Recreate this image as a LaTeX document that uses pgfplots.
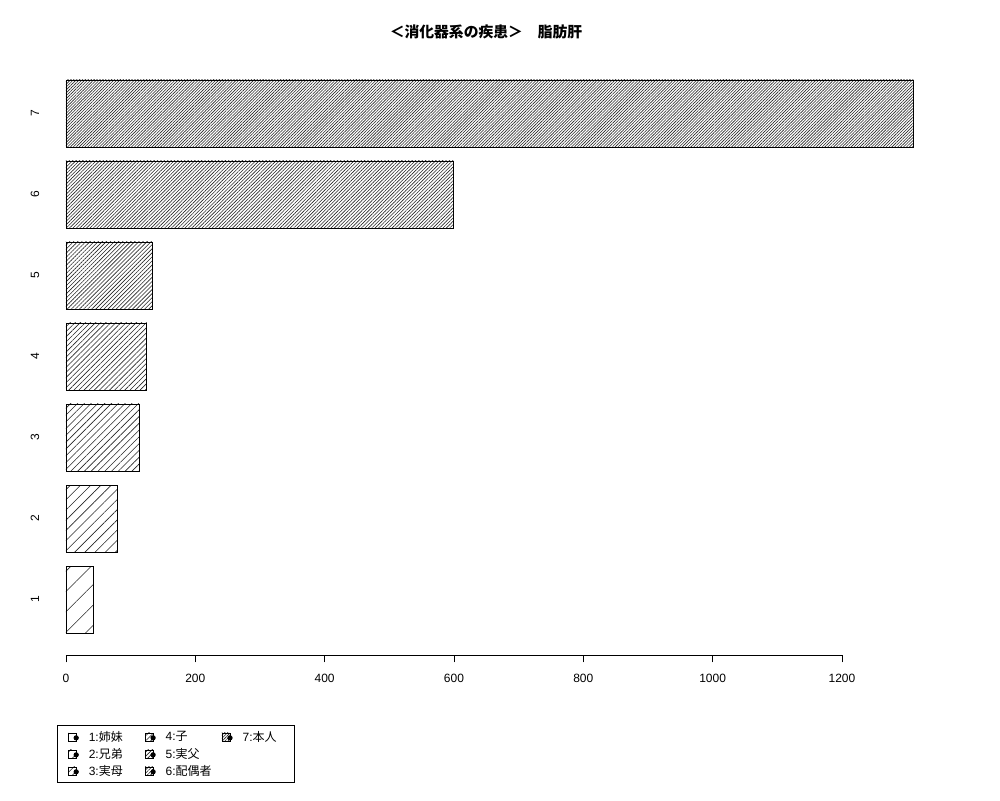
\documentclass[border=0pt]{standalone}
\usepackage{fontspec}
\setmainfont{Liberation Sans}
\newfontfamily\jp{Noto Sans CJK JP}
\usepackage{pgfplots}
\pgfplotsset{compat=1.18}
\usetikzlibrary{patterns.meta}

% hatching density grows with the category (R density 5,10,...,35)
\tikzset{
  h1/.style={pattern={Lines[angle=45,distance=14.4pt,line width=0.6pt]}},
  h2/.style={pattern={Lines[angle=45,distance=7.2pt,line width=0.6pt]}},
  h3/.style={pattern={Lines[angle=45,distance=4.8pt,line width=0.6pt]}},
  h4/.style={pattern={Lines[angle=45,distance=3.6pt,line width=0.6pt]}},
  h5/.style={pattern={Lines[angle=45,distance=2.88pt,line width=0.6pt]}},
  h6/.style={pattern={Lines[angle=45,distance=2.4pt,line width=0.6pt]}},
  h7/.style={pattern={Lines[angle=45,distance=2.06pt,line width=0.6pt]}},
}
\newcommand{\hicon}[1]{\draw[#1,pattern color=black!85,line width=0.6pt] (0pt,-4pt) rectangle (8pt,4pt);
  \fill[black] (8pt,-1pt) circle (2.2pt);}

\pgfplotsset{
  hbar/.style={xbar, bar shift=0pt, bar width=67pt, draw=black, line width=0.9pt,
    pattern color=black!85, forget plot},
}

\begin{document}
\begin{tikzpicture}[x=1pt,y=1pt]
\path[use as bounding box] (0,0) rectangle (1000,800);
\begin{axis}[
    at={(42.7pt,144.6pt)}, anchor=south west,
    scale only axis, width=904.3pt, height=597.8pt,
    xmin=-36, xmax=1362.4, ymin=0.31, ymax=7.69,
    axis line style={draw=none},
    xtick={0,200,...,1200}, xtick pos=lower,
    ytick={1,...,7}, ytick pos=left,
    ytick style={draw=none},
    tick align=outside, major tick length=7pt,
    xtick style={black, line width=0.8pt},
    tick label style={font=\fontsize{12}{14}\selectfont},
    /pgf/number format/assume math mode=true,
    /pgf/number format/1000 sep={},
    xticklabel shift=8pt,
    yticklabel style={rotate=90, anchor=south},
    yticklabel shift=-7pt,
    title={\jp\bfseries ＜消化器系の疾患＞　脂肪肝},
    title style={at={(0.4902,1.0328)}, anchor=center, font=\fontsize{14.8}{16}\selectfont},
    legend columns=3,
    legend cell align=left,
    legend style={at={(0.0158,-0.1164)}, anchor=north west, draw=black, line width=0.8pt,
      font=\fontsize{12}{14}\selectfont, inner xsep=10.5pt, inner ysep=3pt,
      nodes={inner xsep=3pt, inner ysep=2.7pt},
      /tikz/every odd column/.append style={column sep=7pt},
      /tikz/every even column/.append style={column sep=0pt}},
]
\addplot[hbar, h1] coordinates {(42,1)};
\addplot[hbar, h2] coordinates {(79,2)};
\addplot[hbar, h3] coordinates {(113,3)};
\addplot[hbar, h4] coordinates {(125,4)};
\addplot[hbar, h5] coordinates {(133,5)};
\addplot[hbar, h6] coordinates {(599,6)};
\addplot[hbar, h7] coordinates {(1311,7)};
% legend filled row by row so that it reads column by column
\addlegendimage{legend image code/.code={\hicon{h1}}}
\addlegendentry{\makebox[53pt][l]{1:{\jp 姉妹}}}
\addlegendimage{legend image code/.code={\hicon{h4}}}
\addlegendentry{\makebox[53pt][l]{4:{\jp 子}}}
\addlegendimage{legend image code/.code={\hicon{h7}}}
\addlegendentry{\makebox[38pt][l]{7:{\jp 本人}}}
\addlegendimage{legend image code/.code={\hicon{h2}}}
\addlegendentry{\makebox[53pt][l]{2:{\jp 兄弟}}}
\addlegendimage{legend image code/.code={\hicon{h5}}}
\addlegendentry{\makebox[53pt][l]{5:{\jp 実父}}}
\addlegendimage{empty legend}
\addlegendentry{}
\addlegendimage{legend image code/.code={\hicon{h3}}}
\addlegendentry{\makebox[53pt][l]{3:{\jp 実母}}}
\addlegendimage{legend image code/.code={\hicon{h6}}}
\addlegendentry{\makebox[53pt][l]{6:{\jp 配偶者}}}
\addlegendimage{empty legend}
\addlegendentry{}
\draw[line width=0.8pt] (axis cs:0,0.31) -- (axis cs:1200,0.31);
\end{axis}
\end{tikzpicture}
\end{document}
